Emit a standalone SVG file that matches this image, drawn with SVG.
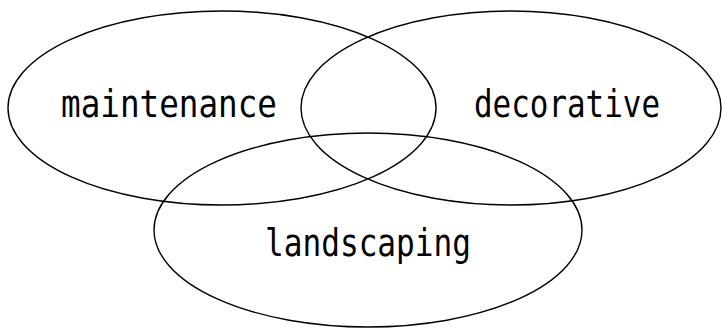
<svg xmlns="http://www.w3.org/2000/svg" width="722" height="329" viewBox="0 0 722 329">
<style>
.set{fill:none;stroke:#000;stroke-width:1.4}
.lbl{font-family:"DejaVu Sans Mono","Liberation Mono",monospace;font-size:37px;fill:#000}
</style>
<rect width="722" height="329" fill="#fff"/>
<g id="maintenance"><ellipse class="set" cx="222" cy="108" rx="214" ry="97"/><text class="lbl" x="61" y="117" textLength="216" lengthAdjust="spacingAndGlyphs">maintenance</text></g>
<g id="decorative"><ellipse class="set" cx="511" cy="108" rx="210" ry="97"/><text class="lbl" x="474" y="117" textLength="186" lengthAdjust="spacingAndGlyphs">decorative</text></g>
<g id="landscaping"><ellipse class="set" cx="368" cy="230" rx="214" ry="97"/><text class="lbl" x="265" y="256" textLength="206" lengthAdjust="spacingAndGlyphs">landscaping</text></g>
<g id="connectors"/>
</svg>
